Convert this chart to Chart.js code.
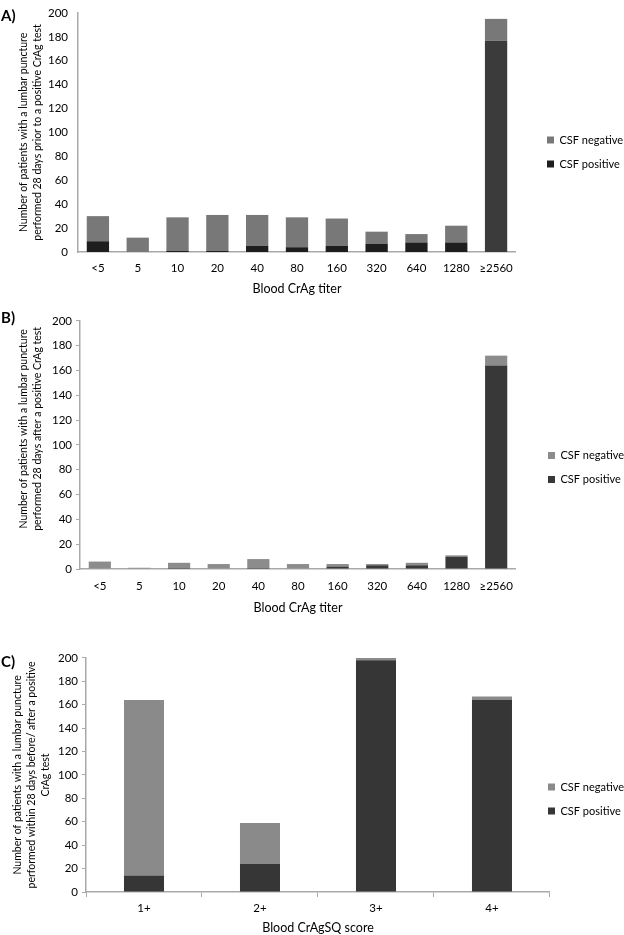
<!DOCTYPE html>
<html>
<head>
<meta charset="utf-8">
<script src="https://cdn.jsdelivr.net/npm/chart.js@4.4.1/dist/chart.umd.min.js"></script>
<style>
  html, body { margin: 0; padding: 0; background: #fff; }
  #page { position: relative; width: 624px; height: 935px; overflow: hidden; font-family: Lato, sans-serif; }
  .panel { position: absolute; left: 0; }
  .tag { position: absolute; left: 1px; font: bold 15px Lato, sans-serif; color: #000; }
</style>
</head>
<body>
<div id="page">
  <div class="panel" style="top:-4px"><canvas id="chartA" width="640" height="304"></canvas></div>
  <div class="panel" style="top:310px"><canvas id="chartB" width="640" height="305"></canvas></div>
  <div class="panel" style="top:647px"><canvas id="chartC" width="649" height="288"></canvas></div>
  <div class="tag" style="top:6px">A)</div>
  <div class="tag" style="top:308px">B)</div>
  <div class="tag" style="top:652px">C)</div>
</div>
<script>
// blood CrAg titer categories (panels A and B)
const titerLabels = ["<5", "5", "10", "20", "40", "80", "160", "320", "640", "1280", "≥2560"];
// A) lumbar puncture 28 days prior to positive CrAg test
const priorPositive = [9, 0, 1, 1, 5, 4, 5, 7, 8, 8, 177];
const priorNegative = [21, 12, 28, 30, 26, 25, 23, 10, 7, 14, 18];
// B) lumbar puncture 28 days after positive CrAg test
const afterPositive = [0, 0, 1, 0, 1, 0, 2, 3, 3, 10, 164];
const afterNegative = [6, 1, 4, 4, 7, 4, 2, 1, 2, 1, 8];
// C) CrAgSQ score
const scoreLabels = ["1+", "2+", "3+", "4+"];
const scorePositive = [14, 24, 198, 164];
const scoreNegative = [150, 35, 2, 3];

const yTicks = { min: 0, max: 200, step: 20 };

// moves the legend block after layout (Excel puts it centred on the whole chart)
const legendShift = {
    id: "legendShift",
    afterLayout(chart, args, opts) {
        const l = chart.legend;
        if (!l) return;
        l.left += opts.x; l.right += opts.x;
        l.top += opts.y; l.bottom += opts.y;
    }
};

function makeChart(id, cfg) {
    const axisColor = "#a9a9a9";
    const ctx = document.getElementById(id).getContext("2d");
    return new Chart(ctx, {
        type: "bar",
        data: {
            labels: cfg.labels,
            datasets: [
                {
                    label: "CSF positive",
                    data: cfg.positive,
                    backgroundColor: cfg.posColor,
                    borderWidth: 0,
                    barPercentage: cfg.barPct,
                    categoryPercentage: 1
                },
                {
                    label: "CSF negative",
                    data: cfg.negative,
                    backgroundColor: cfg.negColor,
                    borderWidth: 0,
                    barPercentage: cfg.barPct,
                    categoryPercentage: 1
                }
            ]
        },
        options: {
            responsive: false,
            animation: false,
            layout: { padding: { top: 0, left: 0, right: cfg.padRight, bottom: 0 } },
            scales: {
                x: {
                    stacked: true,
                    afterFit: s => { s.height = cfg.xHeight; },
                    grid: {
                        display: cfg.xTicks,
                        drawOnChartArea: false,
                        drawTicks: cfg.xTicks,
                        tickLength: 5,
                        color: axisColor,
                        offset: true
                    },
                    border: { display: true, color: axisColor, width: 1.5 },
                    ticks: { color: "#000", padding: cfg.xPad, font: { family: "Lato", size: 11.5 } },
                    title: {
                        display: true,
                        text: cfg.xTitle,
                        color: "#000",
                        font: { family: "Lato", size: 12.5 },
                        padding: { top: 0, bottom: cfg.xTitlePad }
                    }
                },
                y: {
                    stacked: true,
                    min: yTicks.min,
                    max: yTicks.max,
                    afterFit: s => { s.width = cfg.yWidth; },
                    grid: {
                        display: cfg.yTicks,
                        drawOnChartArea: false,
                        drawTicks: cfg.yTicks,
                        tickLength: 4,
                        color: axisColor
                    },
                    border: { display: true, color: axisColor, width: 1.5 },
                    ticks: {
                        stepSize: yTicks.step,
                        color: "#000",
                        padding: cfg.yPad,
                        font: { family: "Lato", size: 11.5 }
                    },
                    title: {
                        display: true,
                        text: cfg.yTitle,
                        color: "#000",
                        font: { family: "Lato", size: 10.5, lineHeight: 1.3 },
                        padding: { top: cfg.yTitlePad, bottom: 0 }
                    }
                }
            },
            plugins: {
                legend: {
                    position: "right",
                    reverse: true,
                    labels: {
                        boxWidth: 7,
                        boxHeight: 7,
                        padding: 13,
                        color: "#000",
                        font: { family: "Lato", size: 11 }
                    }
                },
                legendShift: cfg.legendShift,
                tooltip: { enabled: false }
            }
        },
        plugins: [legendShift]
    });
}

// Excel placed the B axis title a little above the plot centre
const lift = "\u00a0".repeat(12);

makeChart("chartA", {
    labels: titerLabels,
    positive: priorPositive,
    negative: priorNegative,
    posColor: c => (c.dataIndex === titerLabels.length - 1 ? "#3b3b3b" : "#1e1e1e"),
    negColor: "#787878",
    barPct: 0.56,
    xTitle: "Blood CrAg titer",
    yTitle: ["Number of patients with a lumbar puncture", "performed 28 days prior to a positive CrAg test"],
    xHeight: 48, yWidth: 78, xPad: 9, yPad: 10, yTitlePad: 17, xTitlePad: 4, padRight: 25,
    xTicks: false, yTicks: false,
    legendShift: { x: 18, y: 4 }
});

makeChart("chartB", {
    labels: titerLabels,
    positive: afterPositive,
    negative: afterNegative,
    posColor: "#383838",
    negColor: "#8c8c8c",
    barPct: 0.56,
    xTitle: "Blood CrAg titer",
    yTitle: [lift + "Number of patients with a lumbar puncture", lift + "performed 28 days after a positive CrAg test"],
    xHeight: 46, yWidth: 80, xPad: 10, yPad: 4, yTitlePad: 17, xTitlePad: 0, padRight: 25,
    xTicks: false, yTicks: true,
    legendShift: { x: 19, y: 5 }
});

makeChart("chartC", {
    labels: scoreLabels,
    positive: scorePositive,
    negative: scoreNegative,
    posColor: "#363636",
    negColor: "#8a8a8a",
    barPct: 0.345,
    xTitle: "Blood CrAgSQ score",
    yTitle: ["Number of patients with a lumbar puncture", "performed within 28 days before/ after a positive", "CrAg test"],
    xHeight: 43, yWidth: 86, xPad: 4, yPad: 4, yTitlePad: 11, xTitlePad: 0, padRight: 0,
    xTicks: true, yTicks: true,
    legendShift: { x: -15, y: 8 }
});
</script>
</body>
</html>
